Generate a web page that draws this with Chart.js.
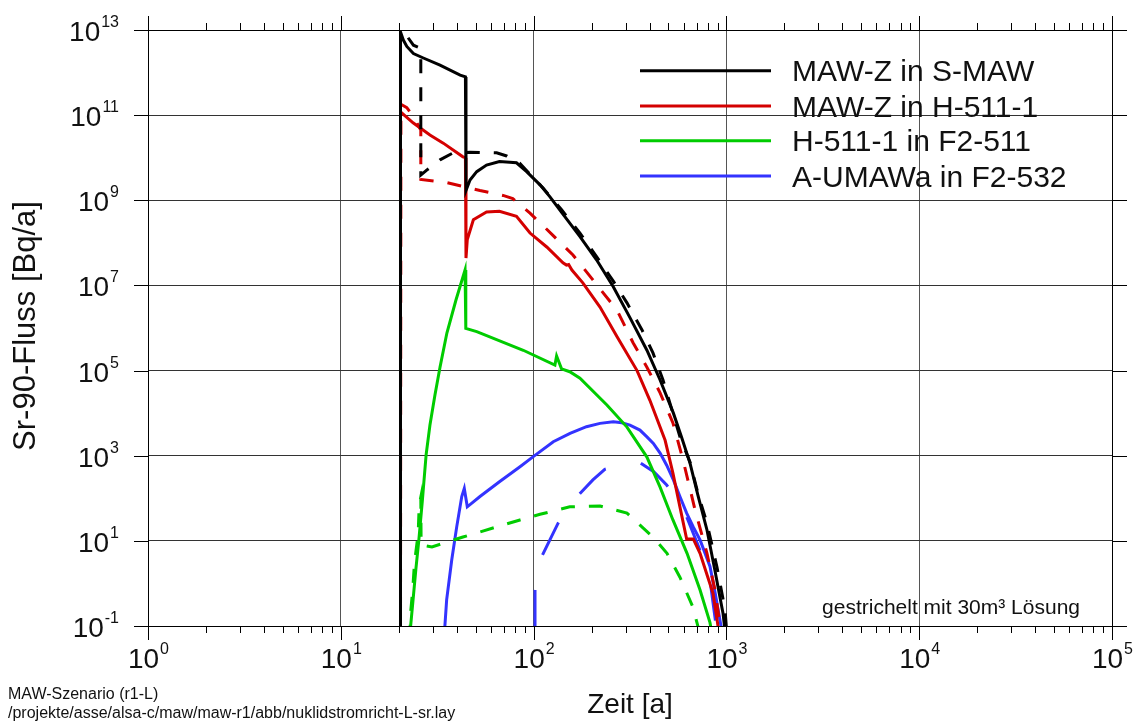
<!DOCTYPE html>
<html>
<head>
<meta charset="utf-8">
<script src="https://cdn.jsdelivr.net/npm/chart.js@4.4.1/dist/chart.umd.min.js"></script>
<style>
html, body { margin: 0; padding: 0; background: #fff; }
#wrap { width: 1137px; height: 727px; }
</style>
</head>
<body>
<div id="wrap"><canvas id="myChart" width="1137" height="727"></canvas></div>
<script>
// tick positions
let xTicks = [1, 10, 100, 1000, 10000, 100000];
let yTicks = [1e-1, 1e1, 1e3, 1e5, 1e7, 1e9, 1e11, 1e13];

let seriesLabels = ["MAW-Z in S-MAW", "MAW-Z in H-511-1", "H-511-1 in F2-511", "A-UMAWa in F2-532"];

// MAW-Z in S-MAW
let blackT = [20.4, 20.4, 21.1, 22, 23.8, 26.8, 32.7, 41.6, 44.3, 44.6, 46.8, 50.7, 57, 66.5, 81.5, 92, 108, 121.6, 141, 174, 212, 259, 316, 387, 453, 531, 585, 648, 712, 793, 873, 960, 995];
let blackF = [0.05, 9e12, 5.8e12, 4.1e12, 2.8e12, 2.2e12, 1.5e12, 8.7e11, 7.9e11, 1.7e9, 3e9, 4.7e9, 6.7e9, 8.1e9, 7.6e9, 4.7e9, 2.3e9, 1.2e9, 4.9e8, 1.4e8, 4e7, 9.3e6, 1.75e6, 3e5, 6e4, 1e4, 2750, 660, 117, 18, 1.95, 0.2, 0.05];
let blackDashT = [20.4, 20.4, 21.5, 23.8, 26.0, 26.0, 27.9, 32.7, 38.2, 46.8, 64.3, 72.5, 84.7, 112, 140, 174, 213, 258, 305, 365, 416, 469, 574, 648, 712, 793, 894, 984, 1010];
let blackDashF = [0.05, 8.6e12, 8.4e12, 4.4e12, 3.7e12, 3.9e9, 5.1e9, 8.9e9, 1.3e10, 1.34e10, 1.3e10, 1.1e10, 7.4e9, 1.94e9, 5.9e8, 1.7e8, 4.6e7, 1.3e7, 3.9e6, 9e5, 2.6e5, 6e4, 2800, 700, 130, 26, 2.4, 0.24, 0.05];

// MAW-Z in H-511-1
let redT = [20.4, 20.4, 23.7, 29, 34, 43, 44.3, 44.6, 45.3, 48.7, 57, 66.5, 81.5, 95.8, 117, 142, 148, 152, 158, 180, 221, 271, 344, 401, 481, 528, 574, 622, 674, 730, 852, 926];
let redF = [0.05, 1.2e11, 6.6e10, 3.4e10, 2.2e10, 1.05e10, 1.0e10, 4.4e7, 1.2e8, 3.5e8, 5.3e8, 5.5e8, 4.2e8, 1.7e8, 8e7, 3.4e7, 3.0e7, 3.1e7, 2.3e7, 1.15e7, 3.1e6, 6.2e5, 1e5, 2e4, 2300, 390, 63, 11, 11, 5.1, 0.59, 0.05];
let redDashT = [20.4, 20.5, 22, 23.8, 26.0, 26.0, 35.6, 52.7, 69.4, 78, 95.8, 126, 160, 203, 271, 328, 387, 453, 528, 596, 688, 793, 873, 948];
let redDashF = [0.05, 1.8e11, 1.5e11, 9.2e10, 4.5e10, 3.1e9, 2.6e9, 1.7e9, 1.3e9, 1.1e9, 5e8, 1.5e8, 5.2e7, 1.35e7, 2.6e6, 4.5e5, 1.2e5, 3e4, 5900, 790, 53, 5.1, 0.7, 0.05];

// H-511-1 in F2-511
let greenT = [22.7, 23.7, 24.5, 25.4, 26.5, 27.7, 29.0, 30.8, 32.7, 35.5, 39.6, 44.1, 44.5, 50.7, 88.4, 129, 131.6, 139.6, 154, 174, 240, 305, 387, 453, 528, 625, 730, 822, 850];
let greenF = [0.05, 0.41, 2.1, 10.5, 91, 1050, 5250, 2.7e4, 1.2e5, 7.6e5, 4.6e6, 2.3e7, 9.8e5, 8.2e5, 3e5, 1.35e5, 2.2e5, 1.1e5, 9.4e4, 6.6e4, 1.55e4, 4700, 930, 183, 31, 5.1, 0.7, 0.12, 0.05];
let greenDashT = [22.8, 23.0, 23.6, 24.1, 25.2, 25.5, 26.0, 26.1, 29.7, 43, 85, 108, 154, 221, 305, 416, 492, 574, 670, 740];
let greenDashF = [0.05, 0.2, 0.7, 3, 15, 69, 107, 8, 7.2, 12.3, 31, 42, 63, 66, 45, 12.3, 5.1, 1.4, 0.28, 0.05];

// A-UMAWa in F2-532
let blueT = [34.3, 35.4, 37.6, 39.9, 42.4, 43.7, 45.3, 52.7, 66.5, 85, 99.6, 126.5, 154.5, 188, 221, 259, 287, 316, 356, 386, 418, 453, 490, 531, 574, 622, 674, 730, 822, 875, 963];
let blueF = [0.05, 0.41, 3.5, 21, 110, 170, 63, 110, 245, 550, 950, 2130, 3360, 4800, 5750, 6300, 5950, 5250, 4000, 2800, 1950, 1150, 600, 270, 110, 45, 21, 10.5, 2.5, 0.59, 0.05];
let blueDashT = [101.7, 101.7, 111, 122, 134, 152, 174, 203, 234, 290, 356, 420, 490, 560, 625, 720, 822, 903];
let blueDashF = [0.1, 0.7, 4.6, 11, 26, 65, 130, 270, 480, 640, 690, 420, 205, 90, 35, 7, 1.2, 0.05];

const FONT = "'Liberation Sans', Arial, Helvetica, sans-serif";
const colors = ["#000000", "#d40000", "#00cc00", "#3333ff"];

function toPoints(t, f) {
    let pts = [];
    for (let i = 0; i < t.length; i++) {
        pts.push({ x: t[i], y: f[i] });
    }
    return pts;
}

function makeSet(label, t, f, color, dashed) {
    return {
        label: label,
        data: toPoints(t, f),
        borderColor: color,
        backgroundColor: color,
        borderWidth: 3,
        borderDash: dashed || [],
        pointRadius: 0,
        fill: false,
        tension: 0,
        clip: 0
    };
}

let datasets = [
    makeSet(seriesLabels[0], blackT, blackF, colors[0]),
    makeSet(seriesLabels[0] + " (30m³)", blackDashT, blackDashF, colors[0], [14, 14]),
    makeSet(seriesLabels[1], redT, redF, colors[1]),
    makeSet(seriesLabels[1] + " (30m³)", redDashT, redDashF, colors[1], [14, 14]),
    makeSet(seriesLabels[2], greenT, greenF, colors[2]),
    makeSet(seriesLabels[2] + " (30m³)", greenDashT, greenDashF, colors[2], [14, 14]),
    makeSet(seriesLabels[3], blueT, blueF, colors[3]),
    makeSet(seriesLabels[3] + " (30m³)", blueDashT, blueDashF, colors[3], [36, 36])
];

function px(v) { return Math.round(v) + 0.5; }

function drawPower(ctx, exp, x, baseY, align) {
    let base = "10";
    let sup = String(exp);
    ctx.font = "28px " + FONT;
    let w1 = ctx.measureText(base).width;
    ctx.font = "16px " + FONT;
    let w2 = ctx.measureText(sup).width;
    let left = align == "right" ? x - w1 - w2 : x - (w1 + w2) / 2;
    ctx.textAlign = "left";
    ctx.textBaseline = "alphabetic";
    ctx.font = "28px " + FONT;
    ctx.fillText(base, left, baseY);
    ctx.font = "16px " + FONT;
    ctx.fillText(sup, left + w1 + 1, baseY - 14);
}

const decorPlugin = {
    id: "decor",
    afterDraw(chart) {
        let ctx = chart.ctx;
        let area = chart.chartArea;
        let xs = chart.scales.x;
        let ys = chart.scales.y;
        ctx.save();
        ctx.strokeStyle = "#000";
        ctx.lineWidth = 1;

        // frame
        ctx.strokeRect(px(area.left), px(area.top), Math.round(area.right) - Math.round(area.left), Math.round(area.bottom) - Math.round(area.top));

        // x ticks, top and bottom, outside
        ctx.beginPath();
        for (let e = 0; e <= 5; e++) {
            for (let k = 1; k <= 9; k++) {
                if (e == 5 && k > 1) break;
                let xp = px(xs.getPixelForValue(k * Math.pow(10, e)));
                let len = k == 1 ? 14 : 7;
                ctx.moveTo(xp, area.top);
                ctx.lineTo(xp, area.top - len);
                ctx.moveTo(xp, area.bottom);
                ctx.lineTo(xp, area.bottom + len);
            }
        }
        // y ticks left and right
        for (let i = 0; i < yTicks.length; i++) {
            let yp = px(ys.getPixelForValue(yTicks[i]));
            ctx.moveTo(area.left - 14, yp);
            ctx.lineTo(area.left, yp);
            ctx.moveTo(area.right, yp);
            ctx.lineTo(area.right + 15, yp);
        }
        ctx.stroke();

        // tick labels
        ctx.fillStyle = "#111";
        for (let i = 0; i < xTicks.length; i++) {
            let xp = xs.getPixelForValue(xTicks[i]);
            drawPower(ctx, Math.round(Math.log10(xTicks[i])), xp, 668, "center");
        }
        for (let i = 0; i < yTicks.length; i++) {
            let yp = ys.getPixelForValue(yTicks[i]);
            drawPower(ctx, Math.round(Math.log10(yTicks[i])), 118, yp + 11, "right");
        }

        // axis titles
        ctx.font = "28px " + FONT;
        ctx.textAlign = "center";
        ctx.textBaseline = "alphabetic";
        ctx.fillText("Zeit [a]", 630, 713);
        ctx.save();
        ctx.translate(35, 326);
        ctx.rotate(-Math.PI / 2);
        ctx.font = "31px " + FONT;
        ctx.fillText("Sr-90-Fluss [Bq/a]", 0, 0);
        ctx.restore();

        // legend
        let legendY = [70.7, 106, 140.7, 176];
        ctx.font = "30px " + FONT;
        ctx.textAlign = "left";
        for (let i = 0; i < seriesLabels.length; i++) {
            ctx.strokeStyle = colors[i];
            ctx.lineWidth = 3;
            ctx.setLineDash([]);
            ctx.beginPath();
            ctx.moveTo(640, legendY[i]);
            ctx.lineTo(771, legendY[i]);
            ctx.stroke();
            ctx.fillStyle = "#111";
            ctx.fillText(seriesLabels[i], 792, legendY[i] + 10.5);
        }

        // note in the plot
        ctx.font = "21px " + FONT;
        ctx.textAlign = "right";
        ctx.fillText("gestrichelt mit 30m³ Lösung", 1080, 614);

        // footer
        ctx.font = "16px " + FONT;
        ctx.textAlign = "left";
        ctx.fillText("MAW-Szenario (r1-L)", 8, 699);
        ctx.fillText("/projekte/asse/alsa-c/maw/maw-r1/abb/nuklidstromricht-L-sr.lay", 8, 718);
        ctx.restore();
    }
};

const chart_ctx = document.getElementById("myChart").getContext("2d");
let chart = new Chart(chart_ctx, {
    type: "line",
    data: { datasets: datasets },
    options: {
        responsive: false,
        animation: false,
        devicePixelRatio: 1,
        layout: { padding: { top: 30, right: 25, left: 0, bottom: 0 } },
        plugins: {
            legend: { display: false },
            tooltip: { enabled: false }
        },
        scales: {
            x: {
                type: "logarithmic",
                min: 1,
                max: 1e5,
                afterBuildTicks: (axis) => { axis.ticks = xTicks.map((v) => ({ value: v })); },
                afterFit: (axis) => { axis.height = 101; },
                ticks: { display: false },
                grid: { color: "#555", lineWidth: 1, drawTicks: false },
                border: { display: false }
            },
            y: {
                type: "logarithmic",
                min: 1e-1,
                max: 1e13,
                afterBuildTicks: (axis) => { axis.ticks = yTicks.map((v) => ({ value: v })); },
                afterFit: (axis) => { axis.width = 148; },
                ticks: { display: false },
                grid: { color: "#333", lineWidth: 1, drawTicks: false },
                border: { display: false }
            }
        }
    },
    plugins: [decorPlugin]
});
</script>
</body>
</html>
